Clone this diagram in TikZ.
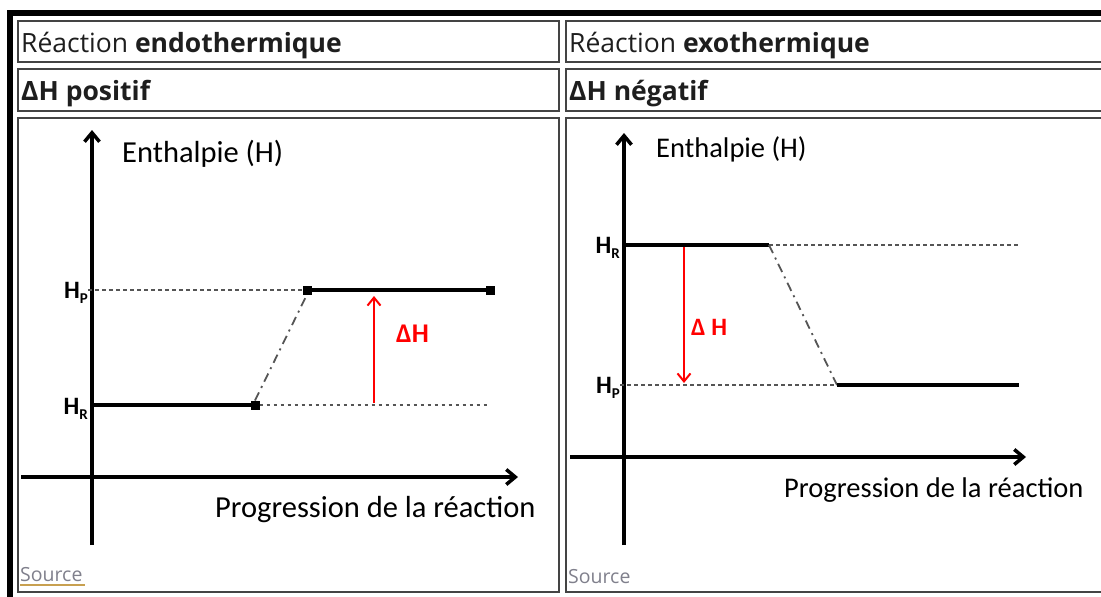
\documentclass[tikz,border=0pt]{standalone}
\usepackage{fontspec}
\setmainfont{Open Sans}
\newfontfamily\diagfont{Carlito}
\usetikzlibrary{arrows.meta}
\definecolor{cellline}{HTML}{444444}
\definecolor{guidegray}{HTML}{555555}
\definecolor{srcgray}{HTML}{80808C}
\definecolor{srcline}{HTML}{C8A050}
\definecolor{hdrtext}{HTML}{1E1E1E}
\newcommand{\Hlab}[1]{H{\fontsize{15}{15}\selectfont\raisebox{-5pt}{#1}}}
\begin{document}
\begin{tikzpicture}[x=1pt,y=-1pt,
  cellbox/.style={draw=cellline, line width=2pt},
  hdr/.style={font=\fontsize{26.5}{28}\selectfont, text=hdrtext, inner sep=0pt, anchor=base west},
  lblL/.style={font=\diagfont\fontsize{30.5}{32}\selectfont, inner sep=0pt, anchor=base west},
  lblR/.style={font=\diagfont\fontsize{28.5}{30}\selectfont, inner sep=0pt, anchor=base west},
  hlab/.style={font=\diagfont\bfseries\fontsize{25}{26}\selectfont, inner sep=0pt, anchor=base east},
  dhlab/.style={font=\diagfont\bfseries\fontsize{27}{28}\selectfont, text=red, inner sep=0pt, anchor=base west},
  src/.style={font=\fontsize{19.5}{21}\selectfont, text=srcgray, inner sep=0pt, anchor=base west},
  axis/.style={line width=3.5pt, -{Straight Barb[length=9pt,width=15pt]}},
  level/.style={line width=4pt},
  guide/.style={draw=guidegray, line width=1.4pt, dash pattern=on 3.5pt off 3.5pt},
  trans/.style={draw=guidegray, line width=1.8pt, dash pattern=on 9pt off 5pt on 2pt off 5pt},
  dharrow/.style={draw=red, line width=2pt, -{Straight Barb[length=8pt,width=13pt]}},
  sq/.style={fill=black, minimum size=9pt, inner sep=0pt, outer sep=0pt}
]
\useasboundingbox (0,0) rectangle (1101,597);
\clip (0,0) rectangle (1101,597);
\fill[white] (0,0) rectangle (1101,597);
% outer border
\draw[line width=6pt] (10,13) rectangle (1120,620);
% cells
\draw[cellbox] (18,21) rectangle (559,62);
\draw[cellbox] (18,69) rectangle (559,111);
\draw[cellbox] (18,118) rectangle (559,592);
\draw[cellbox] (566,21) rectangle (1112,62);
\draw[cellbox] (566,69) rectangle (1112,111);
\draw[cellbox] (566,118) rectangle (1112,592);
% headers
\node[hdr] (h1) at (21,52) {Réaction \textbf{endothermique}};
\node[hdr] (h2) at (569,52) {Réaction \textbf{exothermique}};
\node[hdr] (h3) at (21,100) {\textbf{ΔH positif}};
\node[hdr] (h4) at (569,100) {\textbf{ΔH négatif}};

% ===== left diagram =====
\coordinate (LyB) at (92,545);
\coordinate (LyT) at (92,130);
\coordinate (LxL) at (21,477);
\coordinate (LxR) at (518,477);
\draw[axis] (LyB) -- (LyT);
\draw[axis] (LxL) -- (LxR);
\node[lblL] (Lenth) at (122,162) {Enthalpie (H)};
\node[lblL] (Lprog) at (215,517) {Progression de la réaction};
\node[hlab] (LHP) at (88,298) {\Hlab{P}};
\node[hlab] (LHR) at (88,414) {\Hlab{R}};
\coordinate (LPa) at (88,290);
\coordinate (LRa) at (92,405);
\node[sq] (LRs) at (255,405) {};
\node[sq] (LPs1) at (307,290) {};
\node[sq] (LPs2) at (490,290) {};
\coordinate (LRd) at (488,405);
\draw[guide] (LPa) -- (LPs1.west);
\draw[level] (LRa) -- (LRs.center);
\draw[level] (LPs1.center) -- (LPs2.center);
\draw[guide] (LRs.east) -- (LRd);
\draw[trans] (LRs.north) -- (LPs1.south);
\coordinate (LdA) at (374,403);
\coordinate (LdB) at (374,296);
\draw[dharrow] (LdA) -- (LdB);
\node[dhlab] (LdH) at (396,342) {ΔH};
\node[src] (Lsrc) at (20,581) {Source};
\draw[srcline, line width=1.2pt] (20,585) -- (85,585);

% ===== right diagram =====
\coordinate (RyB) at (624,545);
\coordinate (RyT) at (624,133);
\coordinate (RxL) at (570,457);
\coordinate (RxR) at (1026,457);
\draw[axis] (RyB) -- (RyT);
\draw[axis] (RxL) -- (RxR);
\node[lblR] (Renth) at (656,157) {Enthalpie (H)};
\node[lblR] (Rprog) at (784,497) {Progression de la réaction};
\node[hlab] (RHR) at (620,253) {\Hlab{R}};
\node[hlab] (RHP) at (620,393) {\Hlab{P}};
\coordinate (RRa) at (624,245);
\coordinate (RRe) at (769,245);
\coordinate (RRd) at (1018,245);
\coordinate (RPa) at (620,385);
\coordinate (RPs) at (837,385);
\coordinate (RPe) at (1019,385);
\draw[level] (RRa) -- (RRe);
\draw[guide] (RRe) -- (RRd);
\draw[trans] (RRe) -- (RPs);
\draw[guide] (RPa) -- (RPs);
\draw[level] (RPs) -- (RPe);
\coordinate (RdA) at (684,247);
\coordinate (RdB) at (684,383);
\draw[dharrow] (RdA) -- (RdB);
\node[dhlab, font=\diagfont\bfseries\fontsize{25}{26}\selectfont] (RdH) at (691,335) {Δ H};
\node[src] (Rsrc) at (568,583) {Source};
\end{tikzpicture}
\end{document}
